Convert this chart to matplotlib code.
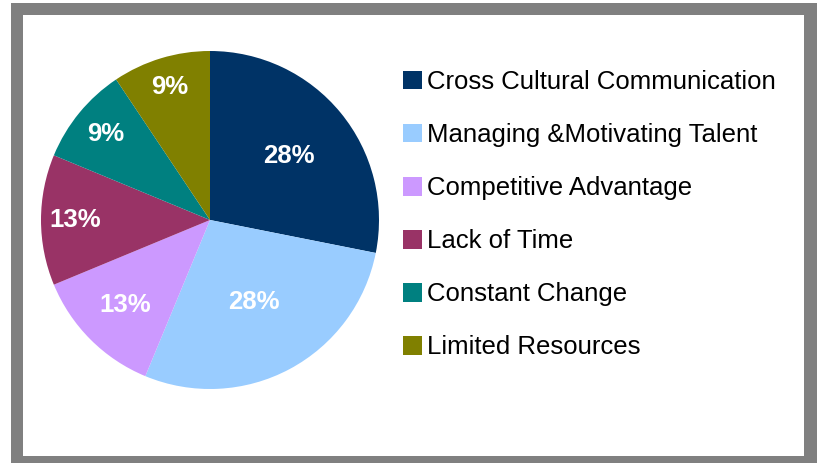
import numpy as np
import matplotlib
matplotlib.use("Agg")
import matplotlib.pyplot as plt
from matplotlib.patches import Rectangle, Patch

plt.rcParams['font.family'] = ['Liberation Sans', 'DejaVu Sans']

labels = ["Cross Cultural Communication", "Managing &Motivating Talent",
          "Competitive Advantage", "Lack of Time", "Constant Change",
          "Limited Resources"]
counts = [9, 9, 4, 4, 3, 3]
colors = ["#003366", "#99CCFF", "#CC99FF", "#993366", "#008080", "#808000"]
# how far out each percentage label sits (fraction of radius)
label_dist = [0.6, 0.55, 0.71, 0.8, 0.8, 0.82]

fig = plt.figure(figsize=(8.17, 4.63), dpi=100)
fig.patch.set_facecolor("white")

# grey frame
fig.patches.append(Rectangle((11/817, 0), 1 - 11/817, 460/463, transform=fig.transFigure,
                             facecolor="#808080", edgecolor="none", zorder=0))
fig.patches.append(Rectangle((23/817, 7/463), (804-23)/817, (456-15)/463,
                             transform=fig.transFigure, facecolor="white",
                             edgecolor="none", zorder=0))

ax = fig.add_axes([41/817, 74/463, 338/817, 338/463])
ax.set_zorder(2)
ax.set_facecolor("none")
wedges, _ = ax.pie(counts, colors=colors, startangle=90, counterclock=False,
                   radius=1.0, wedgeprops=dict(linewidth=0))
ax.set_xlim(-1.0, 1.0)
ax.set_ylim(-1.0, 1.0)
ax.set_aspect("equal")
ax.axis("off")

total = sum(counts)
for w, c, d in zip(wedges, counts, label_dist):
    ang = np.deg2rad((w.theta1 + w.theta2) / 2)
    pct = int(np.floor(100 * c / total + 0.5))
    ax.text(d * np.cos(ang), d * np.sin(ang), f"{pct}%", color="white",
            fontsize=18.5, fontweight="bold", ha="center", va="center")

handles = [Patch(facecolor=col, edgecolor="none") for col in colors]
leg = fig.legend(handles, labels, loc="upper left", bbox_to_anchor=(403/817, 1 - 70/463),
                 frameon=False, fontsize=18.5, handlelength=0.75, handleheight=0.75,
                 handletextpad=0.18, labelspacing=1.13, borderpad=0, borderaxespad=0)
leg.set_zorder(3)

fig.savefig("out.png", dpi=100)
